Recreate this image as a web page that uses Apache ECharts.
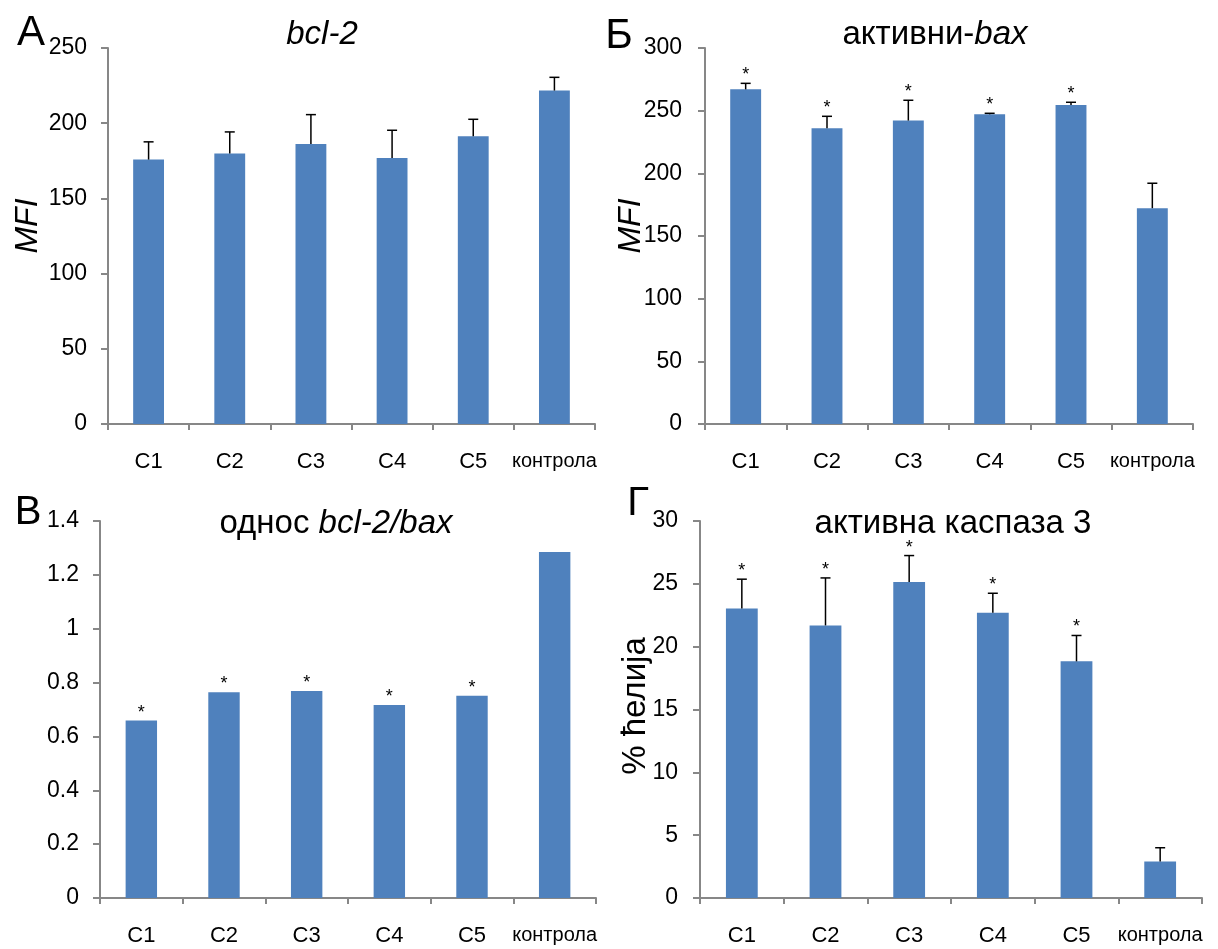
<!DOCTYPE html>
<html><head><meta charset="utf-8">
<script src="https://cdn.jsdelivr.net/npm/echarts@6/dist/echarts.min.js"></script>
<style>html,body{margin:0;padding:0;background:#fff}#c{width:1218px;height:949px}</style>
</head><body><div id="c"></div><script>
// ---- data ----
const categories = ['C1', 'C2', 'C3', 'C4', 'C5', 'контрола'];

const bcl2Values = [175.8, 179.8, 186.2, 176.9, 191.3, 221.7];
const bcl2ErrTop = [187.6, 194.2, 205.7, 195.3, 202.6, 230.5];
const bcl2Stars  = [0, 0, 0, 0, 0, 0];

const baxValues = [267.0, 236.0, 242.1, 247.1, 254.6, 172.2];
const baxErrTop = [271.8, 245.5, 258.3, 247.9, 256.7, 192.1];
const baxStars  = [1, 1, 1, 1, 1, 0];

const ratioValues = [0.659, 0.764, 0.769, 0.717, 0.751, 1.285];
const ratioErrTop = [null, null, null, null, null, null];
const ratioStars  = [1, 1, 1, 1, 1, 0];

const casp3Values = [23.04, 21.69, 25.15, 22.69, 18.83, 2.91];
const casp3ErrTop = [25.37, 25.47, 27.25, 24.25, 20.89, 4.0];
const casp3Stars  = [1, 1, 1, 1, 1, 0];

// y-axis ticks: [min, max, interval]
const bcl2Ticks  = [0, 250, 50];
const baxTicks   = [0, 300, 50];
const ratioTicks = [0, 1.4, 0.2];
const casp3Ticks = [0, 30, 5];

// ---- styling ----
const FONT = '"Liberation Sans", Arial, sans-serif';
const AXIS_COLOR = '#878787';
const BAR_COLOR = '#4F81BD';

const grids = [
  {left: 108, top: 48, width: 487, height: 376},
  {left: 705, top: 48, width: 488, height: 376},
  {left: 100, top: 521, width: 496, height: 377},
  {left: 700, top: 521, width: 502, height: 377}
];
const labelMargins = [21, 23, 21, 22];
const panels = [
  {vals: bcl2Values, err: bcl2ErrTop, stars: bcl2Stars, ticks: bcl2Ticks},
  {vals: baxValues, err: baxErrTop, stars: baxStars, ticks: baxTicks},
  {vals: ratioValues, err: ratioErrTop, stars: ratioStars, ticks: ratioTicks},
  {vals: casp3Values, err: casp3ErrTop, stars: casp3Stars, ticks: casp3Ticks}
];

function errRender(params, api) {
  const idx = api.value(0), top = api.value(1), val = api.value(2), star = api.value(3), hasErr = api.value(4);
  const pBar = api.coord([idx, val]);
  const children = [];
  let yRef = pBar[1];
  if (hasErr) {
    const pTop = api.coord([idx, top]);
    children.push({type: 'line', shape: {x1: pBar[0], y1: pBar[1], x2: pTop[0], y2: pTop[1]},
      style: {stroke: '#000', lineWidth: 1.5}});
    children.push({type: 'line', shape: {x1: pTop[0] - 5, y1: pTop[1], x2: pTop[0] + 5, y2: pTop[1]},
      style: {stroke: '#000', lineWidth: 1.5}});
    yRef = pTop[1];
  }
  if (star) {
    children.push({type: 'text', style: {text: '*', x: pBar[0], y: yRef - 8, align: 'center',
      verticalAlign: 'middle', font: '18px ' + FONT, fill: '#000'}});
  }
  return {type: 'group', children: children};
}

const xAxes = [], yAxes = [], series = [];
panels.forEach((p, i) => {
  xAxes.push({
    type: 'category', gridIndex: i, data: categories,
    axisLine: {lineStyle: {color: AXIS_COLOR, width: 2}},
    axisTick: {show: true, length: 6, inside: false, lineStyle: {color: AXIS_COLOR, width: 2}},
    axisLabel: {interval: 0, margin: 27, color: '#000', fontFamily: FONT, fontSize: 22,
      formatter: v => v === 'контрола' ? '{s|' + v + '}' : v,
      rich: {s: {fontSize: 20, fontFamily: FONT, color: '#000'}}},
    splitLine: {show: false}
  });
  yAxes.push({
    type: 'value', gridIndex: i, min: p.ticks[0], max: p.ticks[1], interval: p.ticks[2],
    axisLine: {show: true, lineStyle: {color: AXIS_COLOR, width: 2}},
    axisTick: {show: true, length: 7, lineStyle: {color: AXIS_COLOR, width: 2}},
    axisLabel: {margin: labelMargins[i], color: '#000', fontFamily: FONT, fontSize: 23},
    splitLine: {show: false}
  });
  series.push({
    type: 'bar', xAxisIndex: i, yAxisIndex: i, data: p.vals, barWidth: '38%',
    itemStyle: {color: BAR_COLOR}, silent: true, animation: false
  });
  series.push({
    type: 'custom', xAxisIndex: i, yAxisIndex: i, renderItem: errRender, animation: false, silent: true, z: 5,
    data: p.vals.map((v, k) => [k, p.err[k] == null ? v : p.err[k], v, p.stars[k], p.err[k] == null ? 0 : 1])
  });
});

function txt(x, y, text, font, extra) {
  return Object.assign({type: 'text', x: x, y: y, silent: true,
    style: {text: text, font: font, fill: '#000', align: 'center', verticalAlign: 'middle'}}, extra || {});
}

const TITLE = '33px ' + FONT;
const TITLE_I = 'italic 33px ' + FONT;
const graphic = [
  txt(31, 33, 'A', '42px ' + FONT),
  txt(619, 36, 'Б', '42px ' + FONT),
  txt(28, 513, 'B', '40px ' + FONT),
  txt(638, 504, 'Г', '40px ' + FONT),
  txt(322, 35, 'bcl-2', TITLE_I),
  {type: 'text', x: 935, y: 35, silent: true, style: {text: '{n|активни-}{i|bax}', align: 'center', verticalAlign: 'middle',
    rich: {n: {font: TITLE, fill: '#000'}, i: {font: TITLE_I, fill: '#000'}}}},
  {type: 'text', x: 336, y: 524, silent: true, style: {text: '{n|однос }{i|bcl-2/bax}', align: 'center', verticalAlign: 'middle',
    rich: {n: {font: TITLE, fill: '#000'}, i: {font: TITLE_I, fill: '#000'}}}},
  txt(953, 524, 'активна каспаза 3', TITLE),
  txt(28, 226, 'MFI', 'italic 32px ' + FONT, {rotation: Math.PI / 2}),
  txt(631, 226, 'MFI', 'italic 32px ' + FONT, {rotation: Math.PI / 2}),
  txt(636, 706, '% ћелија', '33px ' + FONT, {rotation: Math.PI / 2})
];

const chart = echarts.init(document.getElementById('c'), null, {renderer: 'canvas'});
chart.setOption({
  backgroundColor: '#fff',
  animation: false,
  grid: grids,
  xAxis: xAxes,
  yAxis: yAxes,
  series: series,
  graphic: graphic
});
</script></body></html>
